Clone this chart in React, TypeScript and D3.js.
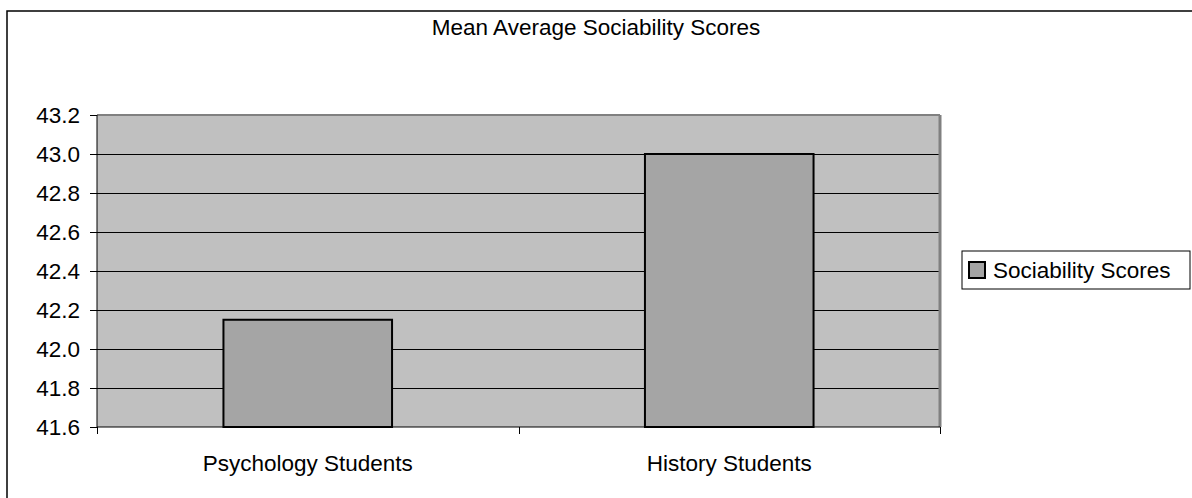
import React from "react";
import * as d3 from "d3";

const categories = ["Psychology Students", "History Students"];
const seriesName = "Sociability Scores";
const values = [42.15, 43.0];
const yTicks = [41.6, 41.8, 42.0, 42.2, 42.4, 42.6, 42.8, 43.0, 43.2];
const title = "Mean Average Sociability Scores";

export default function App() {
  const W = 1192, H = 498;
  const left = 97, right = 940, top = 115, bottom = 427;
  const font = "Liberation Sans, Arial, sans-serif";
  const fs = 22.5;
  const y = d3.scaleLinear().domain([41.6, 43.2]).range([bottom, top]);
  const x = d3.scaleBand().domain(categories).range([left, right]).paddingInner(0.6).paddingOuter(0.3);
  const band = (right - left) / categories.length;

  return (
    <svg width={W} height={H} style={{ position: "absolute", left: 0, top: 0 }} fontFamily={font}>
      <rect x={0} y={0} width={W} height={H} fill="#fff" />
      <rect x={7} y={11} width={1300} height={600} fill="#fff" stroke="#000" strokeWidth={1.5} />
      <text x={596} y={35} textAnchor="middle" fontSize={fs}>{title}</text>
      <rect x={left} y={top} width={right - left} height={bottom - top} fill="#C0C0C0" />
      {yTicks.slice(1).map((t) => (
        <line key={t} x1={left} x2={right} y1={Math.round(y(t)) + 0.5} y2={Math.round(y(t)) + 0.5} stroke="#000" strokeWidth={1} />
      ))}
      <line x1={right} x2={right} y1={top} y2={bottom} stroke="#808080" strokeWidth={3} />
      <line x1={left} x2={right} y1={top} y2={top} stroke="#808080" strokeWidth={2} />
      {categories.map((c, i) => (
        <rect key={c} x={x(c)} y={y(values[i])} width={x.bandwidth()} height={bottom - y(values[i])}
          fill="#A5A5A5" stroke="#000" strokeWidth={2} />
      ))}
      <line x1={left} x2={left} y1={top} y2={bottom} stroke="#000" strokeWidth={1} />
      <line x1={left} x2={right} y1={bottom} y2={bottom} stroke="#000" strokeWidth={1} />
      {yTicks.map((t) => (
        <g key={t}>
          <line x1={left - 7} x2={left} y1={Math.round(y(t)) + 0.5} y2={Math.round(y(t)) + 0.5} stroke="#000" />
          <text x={80} y={y(t)} dy="0.35em" textAnchor="end" fontSize={fs}>{t.toFixed(1)}</text>
        </g>
      ))}
      {[0, 1, 2].map((i) => (
        <line key={i} x1={Math.round(left + i * band) + 0.5} x2={Math.round(left + i * band) + 0.5} y1={bottom} y2={bottom + 7} stroke="#000" />
      ))}
      {categories.map((c) => (
        <text key={c} x={(x(c) as number) + x.bandwidth() / 2} y={471} textAnchor="middle" fontSize={fs}>{c}</text>
      ))}
      <rect x={962} y={251} width={228} height={38} fill="#fff" stroke="#000" strokeWidth={1} />
      <rect x={969} y={262} width={16} height={16} fill="#A5A5A5" stroke="#000" strokeWidth={2} />
      <text x={993} y={278} fontSize={fs}>{seriesName}</text>
    </svg>
  );
}
